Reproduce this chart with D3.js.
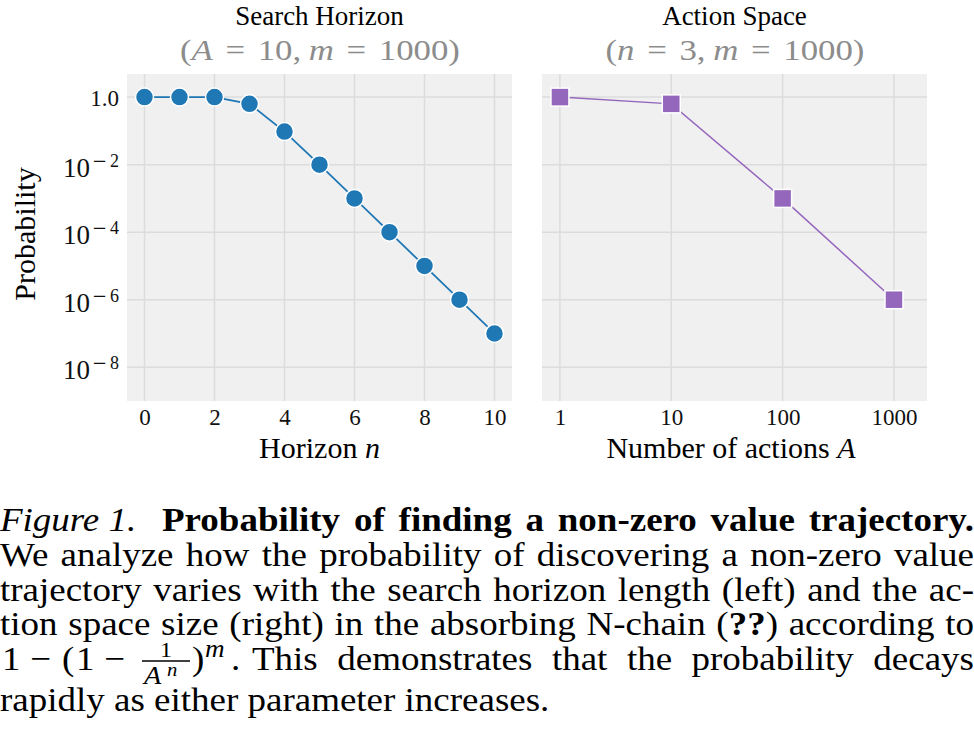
<!DOCTYPE html>
<html><head><meta charset="utf-8">
<script src="https://cdn.jsdelivr.net/npm/d3@7"></script>
<style>body{margin:0;background:#fff}svg{display:block}</style>
</head><body>
<svg id="c" width="974" height="755"></svg>
<script>
// ---------- data ----------
const horizon = [0, 1, 2, 3, 4, 5, 6, 7, 8, 9, 10];
const probHorizon = [1.0, 1.0, 1.0, 0.63, 0.095, 0.01, 1e-3, 1e-4, 1e-5, 1e-6, 1e-7];
const actions = [1, 10, 100, 1000];
const probActions = [1.0, 0.63, 1e-3, 1e-6];
const horizonTicks = [0, 2, 4, 6, 8, 10];
const horizonTickLabels = ["0", "2", "4", "6", "8", "10"];
const actionTicks = [1, 10, 100, 1000];
const actionTickLabels = ["1", "10", "100", "1000"];
const probTicks = [1, 1e-2, 1e-4, 1e-6, 1e-8];
const probTickLabels = ["1.0", "10^−2", "10^−4", "10^−6", "10^−8"];
const titles = ["Search Horizon", "Action Space"];
const subtitleLeft = [["(", ""], ["A", "i"], ["=", "r"], ["10,", ""], ["m", "i"], ["=", "r"], ["1000)", ""]];
const subtitleRight = [["(", ""], ["n", "i"], ["=", "r"], ["3,", ""], ["m", "i"], ["=", "r"], ["1000)", ""]];

// ---------- setup ----------
const FONT = "'Liberation Serif','Times New Roman',Times,serif";
const svg = d3.select('#c').attr('font-family', FONT);
const W = 974;
const top0 = 74, bot0 = 401;
const y = d3.scaleLog().domain([1e-9, 4.83]).range([bot0, top0]);
const xL = d3.scaleLinear().domain([-0.5, 10.5]).range([127, 512]);
const xR = d3.scaleLog().domain([0.69, 1980]).range([542, 927]);

function panel(xs, xTicks, xLabels) {
  const [a, b] = xs.range();
  const g = svg.append('g');
  g.append('rect').attr('x', a).attr('y', top0).attr('width', b - a).attr('height', bot0 - top0).attr('fill', '#f0f0f0');
  g.selectAll('line.vg').data(xTicks).join('line').attr('class', 'vg')
    .attr('x1', d => xs(d)).attr('x2', d => xs(d)).attr('y1', top0).attr('y2', bot0)
    .attr('stroke', '#dcdcdc').attr('stroke-width', 1.5);
  g.selectAll('line.hg').data(probTicks).join('line').attr('class', 'hg')
    .attr('y1', d => y(d)).attr('y2', d => y(d)).attr('x1', a).attr('x2', b)
    .attr('stroke', '#dcdcdc').attr('stroke-width', 1.5);
  const ax = d3.axisBottom(xs).tickValues(xTicks).tickFormat((d, i) => xLabels[i]).tickSize(0).tickPadding(8);
  const axg = g.append('g').attr('transform', `translate(0,${bot0})`).call(ax);
  axg.select('.domain').remove();
  axg.selectAll('text').attr('font-size', 23).attr('font-family', FONT).attr('fill', '#111');
  return g;
}

const gL = panel(xL, horizonTicks, horizonTickLabels);
const gR = panel(xR, actionTicks, actionTickLabels);

// y tick labels (left only)
probTicks.forEach((v, i) => {
  const lab = probTickLabels[i];
  const t = svg.append('text').attr('x', 119).attr('text-anchor', 'end').attr('fill', '#111');
  if (lab.includes('^')) {
    const [b, e] = lab.split('^');
    t.attr('y', y(v) + 12).attr('font-size', 27);
    t.append('tspan').text(b);
    t.append('tspan').attr('dx', 2).attr('dy', -10).attr('font-size', 18).attr('font-family', 'DejaVu Serif').text(e[0]);
    t.append('tspan').attr('dx', 3).attr('font-size', 18).text(e.slice(1));
  } else {
    t.attr('y', y(v) + 9).attr('font-size', 23).text(lab);
  }
});

// series
const lineL = d3.line().x((d, i) => xL(horizon[i])).y(d => y(d));
gL.append('path').datum(probHorizon).attr('d', lineL).attr('fill', 'none').attr('stroke', '#1f77b4').attr('stroke-width', 1.8);
gL.selectAll('circle.pt').data(probHorizon).join('circle').attr('class', 'pt')
  .attr('cx', (d, i) => xL(horizon[i])).attr('cy', d => y(d)).attr('r', 9)
  .attr('fill', '#1f77b4').attr('stroke', '#fff').attr('stroke-width', 1.5);

const lineR = d3.line().x((d, i) => xR(actions[i])).y(d => y(d));
gR.append('path').datum(probActions).attr('d', lineR).attr('fill', 'none').attr('stroke', '#9467bd').attr('stroke-width', 1.5);
const sq = 18;
gR.selectAll('rect.pt').data(probActions).join('rect').attr('class', 'pt')
  .attr('x', (d, i) => xR(actions[i]) - sq / 2).attr('y', d => y(d) - sq / 2).attr('width', sq).attr('height', sq)
  .attr('fill', '#9467bd').attr('stroke', '#fff').attr('stroke-width', 1.5);

// titles
const centers = [(127 + 512) / 2, (542 + 927) / 2];
titles.forEach((t, i) => {
  svg.append('text').attr('x', centers[i]).attr('y', 24.5).attr('text-anchor', 'middle').attr('font-size', 27).attr('fill', '#000').text(t);
});

// subtitles: horizontally stretched math-like glyphs
function mathLine(tokens, cx, width, yb) {
  const sx = 1.2;
  const g = svg.append('g').attr('fill', '#8c8c8c');
  const nodes = tokens.map(([s, st]) => {
    const t = g.append('text').attr('font-size', 29).text(s);
    if (st === 'i') t.attr('font-style', 'italic');
    return t;
  });
  const ws = nodes.map(n => n.node().getComputedTextLength() * sx);
  const wts = tokens.slice(0, -1).map((tk, i) => (tk[1] === 'r' || tokens[i + 1][1] === 'r') ? 1 : (tk[0].endsWith(',') ? 0.6 : 0));
  const unit = (width - d3.sum(ws)) / d3.sum(wts);
  let x = cx - width / 2;
  nodes.forEach((n, i) => {
    n.attr('transform', `translate(${x},${yb}) scale(${sx},1)`);
    x += ws[i] + (i < wts.length ? wts[i] * unit : 0);
  });
}
mathLine(subtitleLeft, 320, 280, 60);
mathLine(subtitleRight, 735, 259, 60);

// axis labels
const xl = svg.append('text').attr('x', centers[0]).attr('y', 458).attr('text-anchor', 'middle').attr('font-size', 30);
xl.append('tspan').text('Horizon ');
xl.append('tspan').attr('font-style', 'italic').text('n');
const xr = svg.append('text').attr('x', 731).attr('y', 458).attr('text-anchor', 'middle').attr('font-size', 30);
xr.append('tspan').text('Number of actions ');
xr.append('tspan').attr('font-style', 'italic').text('A');
svg.append('text').attr('transform', 'translate(35,234) rotate(-90)').attr('text-anchor', 'middle').attr('font-size', 30).text('Probability');

// ---------- caption ----------
const CS = 34;
const SX = 37 / CS;
const cap = svg.append('g').attr('fill', '#000').attr('transform', `scale(${SX},1)`);
function mkWord(parts, yb, fs) {
  const t = cap.append('text').attr('y', yb).attr('font-size', fs || CS);
  parts.forEach(p => {
    const s = t.append('tspan').text(p.t);
    if (p.b) s.attr('font-weight', 'bold');
    if (p.i) s.attr('font-style', 'italic');
  });
  return t;
}
// x0, x1 in screen pixels
function justify(yb, words, x0, x1) {
  const nodes = words.map(w => mkWord(w, yb));
  const ws = nodes.map(n => n.node().getComputedTextLength());
  const a = x0 / SX, b = x1 / SX;
  const gap = (b - a - d3.sum(ws)) / (nodes.length - 1);
  let x = a;
  nodes.forEach((n, i) => { n.attr('x', x); x += ws[i] + gap; });
}
const plain = (s, o = {}) => s.split(' ').map(w => [Object.assign({ t: w }, o)]);
const B = [531, 566, 601, 635, 670, 711];

mkWord([{ t: 'Figure 1.', i: true }], B[0]).attr('x', 0);
justify(B[0], plain('Probability of finding a non-zero value trajectory.', { b: true }), 162, W);
justify(B[1], plain('We analyze how the probability of discovering a non-zero value'), 0, W);
justify(B[2], plain('trajectory varies with the search horizon length (left) and the ac-'), 0, W);
const l4 = plain('tion space size (right) in the absorbing N-chain');
l4.push([{ t: '(' }, { t: '??', b: true }, { t: ')' }]);
plain('according to').forEach(w => l4.push(w));
justify(B[3], l4, 0, W);

// math on line 5 (x in screen px)
const b5 = B[4];
const mt = (s, x, yb, fs, it) => mkWord([{ t: s, i: it }], yb, fs).attr('x', x / SX);
mt('1', 2, b5, CS);
mt('−', 30, b5, CS);
mt('(', 62, b5, CS);
mt('1', 76, b5, CS);
mt('−', 104, b5, CS);
mt('1', 160, b5 - 13, 22);
cap.append('line').attr('x1', 142 / SX).attr('x2', 190 / SX).attr('y1', b5 - 9).attr('y2', b5 - 9).attr('stroke', '#000').attr('stroke-width', 1.3);
mt('A', 144, b5 + 14, 26, true);
mt('n', 167, b5 + 6, 19, true);
mt(')', 192, b5, CS);
mt('m', 205, b5 - 13, 25, true);
mt('.', 231, b5, CS);
justify(b5, plain('This demonstrates that the probability decays'), 252, W);

mkWord([{ t: 'rapidly as either parameter increases.' }], B[5]).attr('x', 0);
</script>
</body></html>
